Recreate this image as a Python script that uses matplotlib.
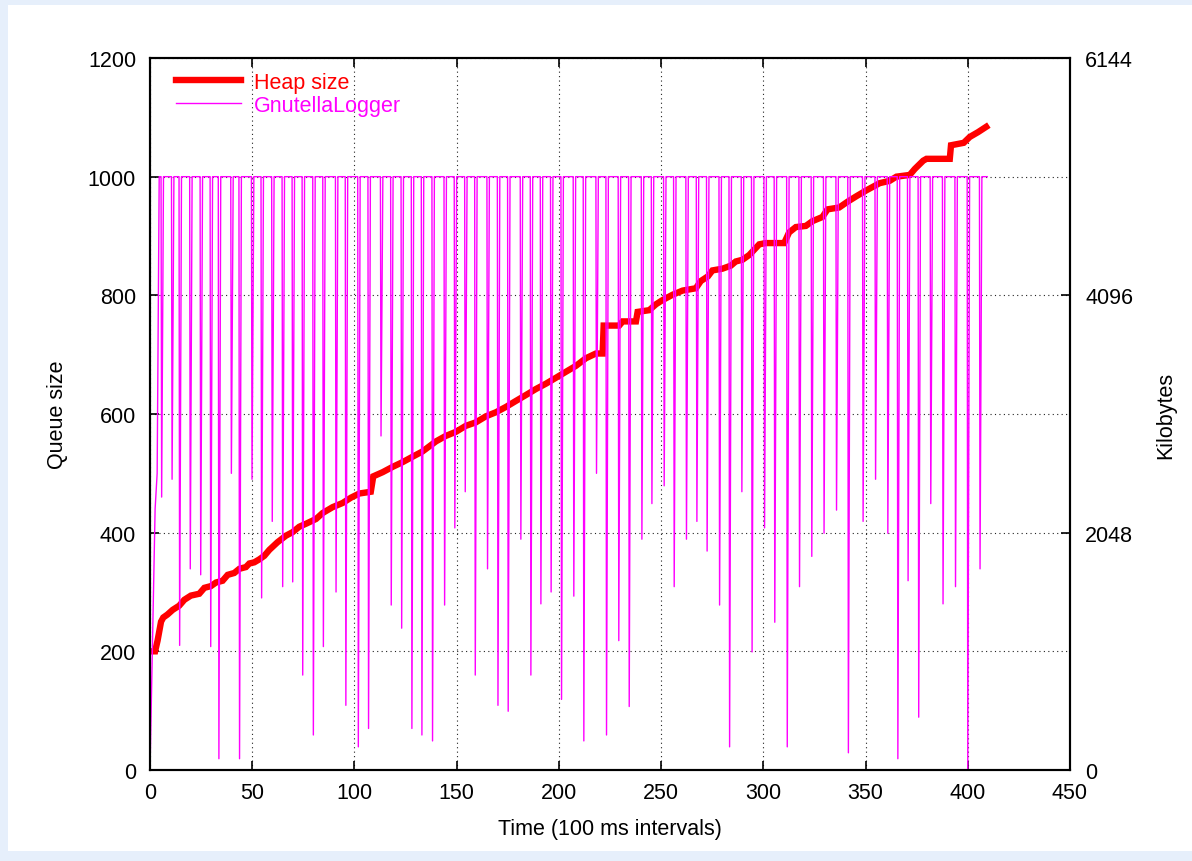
import matplotlib
matplotlib.use("Agg")
import matplotlib.pyplot as plt
from matplotlib.patches import Rectangle
from matplotlib.lines import Line2D

plt.rcParams['font.family'] = ['Liberation Sans', 'DejaVu Sans']

# ---------------------------------------------------------------------------
# GnutellaLogger queue size (messages), sampled every 100 ms.
# The queue sits at its capacity and is drained briefly every few intervals.
queue_capacity = 1000
queue_start_t = [0, 2.5, 3.5, 4.5]
queue_start_v = [0, 440, 500, 1000]
dip_times = [5.7, 10.8, 14.5, 19.7, 24.8, 29.7, 33.7, 39.8, 43.8, 49.9,
             54.6, 59.8, 64.9, 69.8, 74.7, 79.9, 84.8, 91.0, 95.8, 101.9,
             106.9, 113.0, 118.0, 123.1, 128.1, 133.0, 138.2, 144.1, 149.1, 154.2,
             159.1, 165.1, 170.2, 175.2, 181.4, 186.3, 191.2, 196.2, 201.3, 207.3,
             212.2, 218.4, 223.3, 229.3, 234.4, 240.6, 245.5, 251.5, 256.4, 262.4,
             267.5, 272.5, 278.6, 283.5, 289.5, 294.5, 300.6, 305.6, 311.7, 317.7,
             323.7, 329.7, 335.8, 341.6, 348.8, 354.9, 360.9, 365.8, 370.8, 376.0,
             381.9, 387.9, 394.0, 400.0, 406.0]
dip_depths = [460, 490, 210, 339, 329, 208, 19, 500, 19, 490,
              290, 419, 309, 317, 160, 59, 208, 300, 109, 39,
              70, 563, 278, 239, 70, 59, 49, 278, 408, 469,
              160, 339, 109, 99, 389, 160, 280, 300, 119, 293,
              49, 500, 59, 218, 107, 389, 449, 479, 309, 389,
              419, 369, 278, 39, 469, 199, 408, 249, 39, 309,
              360, 399, 438, 29, 419, 490, 399, 19, 319, 89,
              449, 280, 309, 0, 339]
queue_end_t = 409.5

# Heap size (kilobytes)
heap_t = [0, 2.5, 3.7, 5.4, 6.5, 8.5, 11.1, 14.3, 16.8, 20.0,
          24.1, 26.6, 29.8, 32.3, 35.5, 38.0, 41.2, 43.7, 46.9, 48.6,
          51.0, 53.5, 55.9, 58.4, 62.4, 66.5, 69.8, 73.0, 76.3, 81.2,
          84.4, 89.3, 94.2, 98.3, 102.4, 108.0, 109.2, 113.8, 118.7, 123.6,
          128.4, 133.3, 139.9, 144.7, 149.6, 154.5, 159.4, 164.3, 169.2, 174.1,
          179.0, 183.9, 188.7, 193.6, 198.5, 203.4, 208.3, 213.2, 218.1, 221.4,
          221.9, 229.5, 231.2, 237.7, 238.5, 244.2, 247.5, 250.7, 255.6, 260.5,
          267.0, 269.4, 272.9, 275.1, 280.0, 284.1, 286.5, 289.8, 293.1, 298.0,
          301.2, 310.2, 312.6, 315.9, 320.8, 324.0, 328.9, 331.4, 337.1, 341.3,
          345.5, 350.4, 356.9, 361.8, 365.1, 371.6, 374.1, 378.2, 379.8, 391.2,
          391.8, 398.0, 401.0, 405.0, 409.0]
heap_kb = [1024, 1024, 1116, 1280, 1316, 1341, 1382, 1418, 1469, 1505,
           1521, 1572, 1587, 1618, 1633, 1684, 1700, 1736, 1751, 1782,
           1792, 1818, 1848, 1900, 1966, 2022, 2053, 2099, 2125, 2166,
           2217, 2268, 2304, 2350, 2386, 2401, 2534, 2570, 2616, 2657,
           2703, 2749, 2836, 2883, 2918, 2970, 3000, 3052, 3087, 3133,
           3185, 3236, 3287, 3333, 3384, 3436, 3487, 3553, 3594, 3594,
           3835, 3835, 3871, 3871, 3953, 3968, 4019, 4055, 4101, 4137,
           4157, 4219, 4260, 4311, 4326, 4352, 4388, 4403, 4444, 4536,
           4547, 4547, 4639, 4685, 4695, 4736, 4772, 4838, 4854, 4905,
           4951, 5002, 5064, 5084, 5120, 5135, 5187, 5258, 5274, 5274,
           5391, 5412, 5463, 5504, 5550]

x_ticks = [0, 50, 100, 150, 200, 250, 300, 350, 400, 450]
queue_ticks = [0, 200, 400, 600, 800, 1000, 1200]
kb_ticks = [0, 2048, 4096, 6144]

# ---------------------------------------------------------------------------
# Expand the drain events into a polyline
queue_t = list(queue_start_t)
queue_v = list(queue_start_v)
for t, d in zip(dip_times, dip_depths):
    queue_t += [t - 0.3, t, t + 0.9]
    queue_v += [queue_capacity, d, queue_capacity]
queue_t.append(queue_end_t)
queue_v.append(queue_capacity)

FS = 15.5
W, H = 1192, 862
fig = plt.figure(figsize=(W / 100, H / 100), dpi=100, facecolor='#e6effb')
fig.patches.append(Rectangle((8 / W, 10 / H), 1 - 8 / W, 1 - 16 / H,
                             transform=fig.transFigure, facecolor='white',
                             edgecolor='none', zorder=-10))

L, R, T, B = 150, 1070, 59, 771
ax = fig.add_axes([L / W, 1 - B / H, (R - L) / W, (B - T) / H])
ax.set_xlim(0, 450)
ax.set_ylim(0, 1200)
ax.set_xticks(x_ticks)
ax.set_yticks(queue_ticks)
ax.grid(True, color='#222222', linestyle=(0, (1, 3)), linewidth=0.8)
ax.tick_params(axis='both', direction='in', length=6.5, width=1.2,
               labelsize=FS, top=True, right=False)
ax.tick_params(axis='y', pad=10)
ax.tick_params(axis='x', pad=8.5)
for sp in ax.spines.values():
    sp.set_linewidth(1.5)
ax.set_xlabel('Time (100 ms intervals)', fontsize=FS)
ax.set_ylabel('Queue size', fontsize=FS)
ax.xaxis.set_label_coords(0.5, -0.068)
ax.yaxis.set_label_coords(-0.089, 0.5)

ax2 = ax.twinx()
ax2.set_ylim(0, 6144)
ax2.set_yticks(kb_ticks)
ax2.tick_params(axis='y', direction='in', length=6.5, width=1.2,
                labelsize=FS, pad=11)
ax2.set_ylabel('Kilobytes', fontsize=FS)
ax2.yaxis.set_label_coords(1.0924, 0.5)
for sp in ax2.spines.values():
    sp.set_linewidth(1.5)

heap_line, = ax2.plot(heap_t, heap_kb, color='#ff0000', linewidth=4.6,
                      solid_joinstyle='miter', label='Heap size')
queue_line = Line2D(queue_t, queue_v, color='#ff00ff', linewidth=1.0,
                    transform=ax.transData, label='GnutellaLogger')
ax2.add_line(queue_line)
ax2.set_ylim(0, 6144)

leg = ax2.legend(handles=[heap_line, queue_line], loc='upper left',
                 bbox_to_anchor=(0.0283, 0.981), frameon=False, fontsize=FS,
                 handlelength=3.0, handletextpad=0.6, labelspacing=0.1,
                 borderpad=0, borderaxespad=0)
for txt, ln in zip(leg.get_texts(), [heap_line, queue_line]):
    txt.set_color(ln.get_color())

fig.savefig('out.png', dpi=100, facecolor=fig.get_facecolor())
